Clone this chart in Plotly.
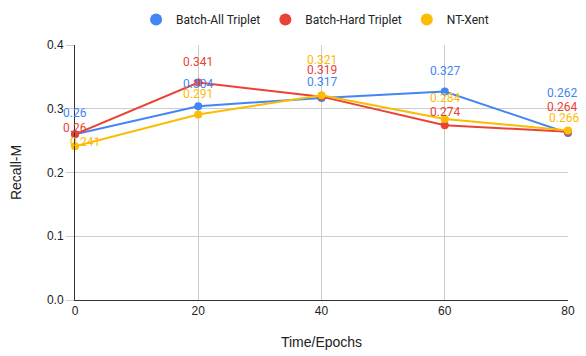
import plotly.graph_objects as go

epochs = [0, 20, 40, 60, 80]
batch_all = [0.26, 0.304, 0.317, 0.327, 0.262]
batch_hard = [0.26, 0.341, 0.319, 0.274, 0.264]
nt_xent = [0.241, 0.291, 0.321, 0.284, 0.266]

series = [
    ('Batch-All Triplet', batch_all, '#4285F4'),
    ('Batch-Hard Triplet', batch_hard, '#EA4335'),
    ('NT-Xent', nt_xent, '#FBBC04'),
]

# label offsets (px) so stacked labels don't overlap, like the sheets chart
label_yshift = [
    [21, 22, 16, 21, 40],
    [6, 21, 27, 13, 25],
    [4, 20, 35, 21, 12],
]
label_xshift = [
    [0, 0, 0, 0, -6],
    [0, 0, 0, 0, -6],
    [10, 0, 0, 0, -4],
]

fig = go.Figure()
for name, vals, color in series:
    fig.add_trace(go.Scatter(
        x=epochs, y=vals, name=name, mode='lines+markers',
        line=dict(color=color, width=2),
        marker=dict(color=color, size=8),
        cliponaxis=False, showlegend=False,
    ))
    # legend entry: plain dot like the sheets legend
    fig.add_trace(go.Scatter(
        x=[None], y=[None], name=name, mode='markers',
        marker=dict(color=color, size=12),
    ))

for i, (name, vals, color) in enumerate(series):
    for j, (x, v) in enumerate(zip(epochs, vals)):
        fig.add_annotation(
            x=x, y=v, text=f'{v:g}', showarrow=False,
            xref='x', yref='y',
            yshift=label_yshift[i][j], xshift=label_xshift[i][j],
            font=dict(family='Roboto', size=12, color=color),
        )

fig.update_layout(
    width=586, height=356,
    margin={'l': 75, 'r': 18, 't': 45, 'b': 56, 'autoexpand': False},
    paper_bgcolor='white',
    plot_bgcolor='white',
    font=dict(family='Liberation Sans', size=12, color='#222222'),
    legend=dict(orientation='h', x=0.487, xanchor='center', y=1.10, yanchor='middle',
                font=dict(family='Roboto', size=12, color='#222222'),
                itemwidth=30, tracegroupgap=0),
)
fig.update_xaxes(
    range=[0, 80], tickvals=epochs, showgrid=True, gridcolor='#cccccc',
    zeroline=False, showline=True, linecolor='#333333', linewidth=1,
    ticks='', title=dict(text='Time/Epochs', standoff=19),
    tickfont=dict(size=12), automargin=False,
)
fig.update_yaxes(
    range=[0, 0.4], dtick=0.1, tickformat='.1f', showgrid=True, gridcolor='#cccccc',
    zeroline=False, showline=True, linecolor='#333333', linewidth=1,
    ticks='outside', ticklen=8, tickcolor='#cccccc',
    title=dict(text='Recall-M', standoff=22), automargin=False,
)

fig.write_html("out.html", config={'displayModeBar': False},
               post_script="document.body.style.margin='0';")
